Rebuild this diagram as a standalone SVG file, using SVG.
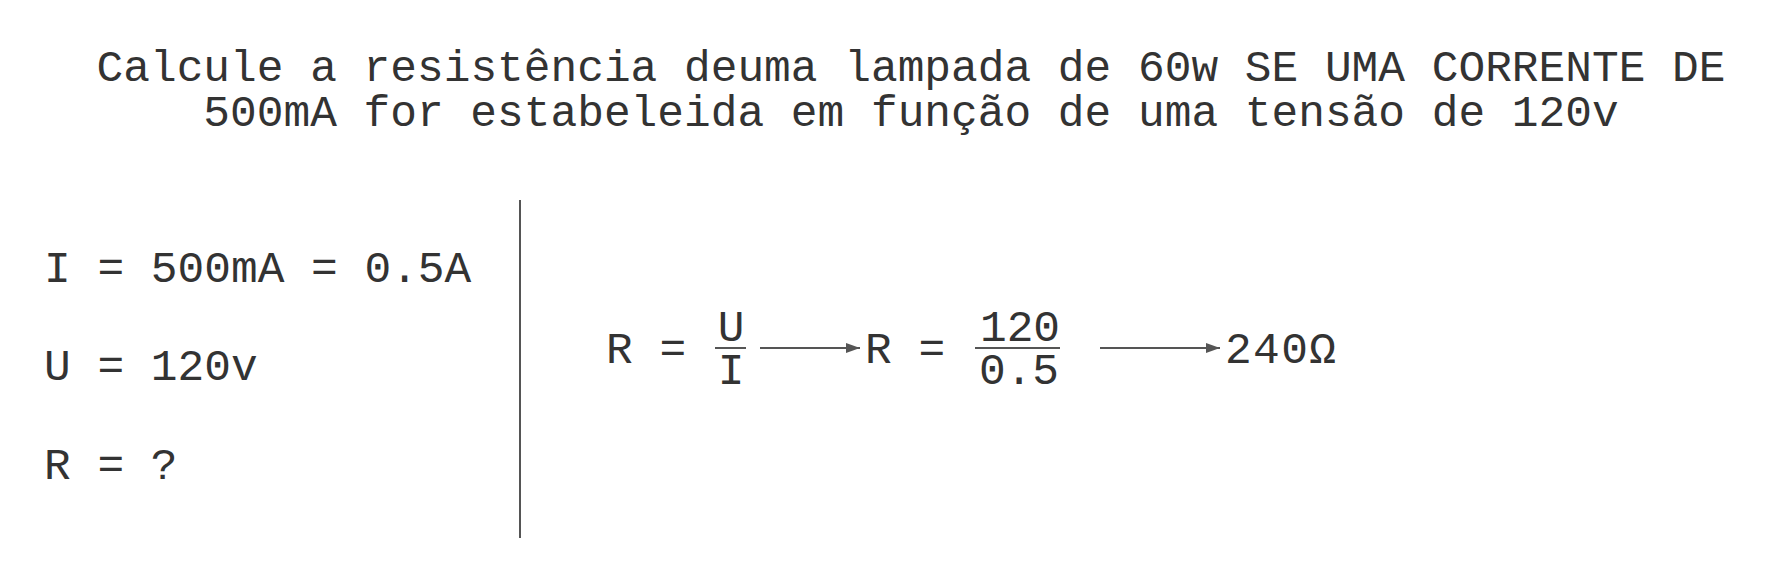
<svg xmlns="http://www.w3.org/2000/svg" width="1780" height="579" viewBox="0 0 1780 579">
<style>
text{font-family:"Liberation Mono","DejaVu Sans Mono",monospace;font-size:44.5px;fill:#333333}
.m{text-anchor:middle}
.ln{stroke:#555555;stroke-width:2;fill:none}
</style>
<defs>
<marker id="ah" viewBox="0 0 14 10" refX="14" refY="5" markerWidth="14" markerHeight="10" markerUnits="userSpaceOnUse" orient="auto"><path d="M0,0 L14,5 L0,10 z" fill="#555555"/></marker>
</defs>
<rect width="1780" height="579" fill="#ffffff"/>
<g id="title">
<text class="m" x="911" y="81">Calcule a resistência deuma lampada de 60w SE UMA CORRENTE DE</text>
<text class="m" x="911" y="126">500mA for estabeleida em função de uma tensão de 120v</text>
</g>
<g id="givens">
<text x="44" y="282">I = 500mA = 0.5A</text>
<text x="44" y="380">U = 120v</text>
<text x="44" y="479">R = ?</text>
</g>
<g id="divider"><line class="ln" x1="520" y1="200" x2="520" y2="538"/></g>
<g id="formula1">
<text x="606" y="363">R = </text>
<text class="m" x="731" y="341">U</text>
<line class="ln" x1="715" y1="348" x2="746" y2="348" stroke-width="2.5"/>
<text class="m" x="731" y="384">I</text>
</g>
<g id="formula2">
<text x="865" y="363">R = </text>
<text class="m" x="1020" y="341">120</text>
<line class="ln" x1="975" y1="348" x2="1060" y2="348" stroke-width="2.5"/>
<text class="m" x="1019" y="384">0.5</text>
</g>
<g id="result"><text x="1225" y="363" textLength="111">240Ω</text></g>
<g id="connectors">
<line class="ln" x1="760" y1="348" x2="860" y2="348" marker-end="url(#ah)"/>
<line class="ln" x1="1100" y1="348" x2="1220" y2="348" marker-end="url(#ah)"/>
</g>
</svg>
